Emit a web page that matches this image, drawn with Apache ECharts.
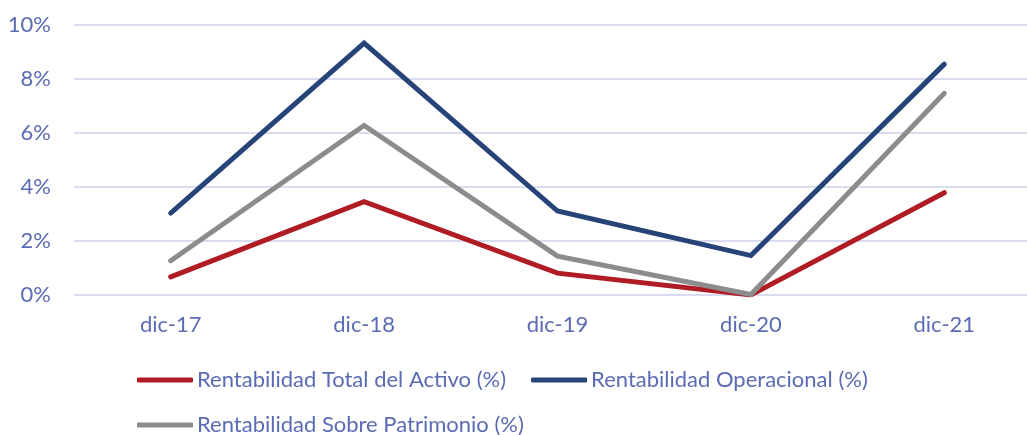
<!DOCTYPE html>
<html>
<head>
<meta charset="utf-8">
<script src="https://cdn.jsdelivr.net/npm/echarts@6/dist/echarts.min.js"></script>
<style>
html,body{margin:0;padding:0;background:#fff;overflow:hidden;width:1027px;height:435px;}
#chart{width:1050px;height:435px;}
</style>
</head>
<body>
<div id="chart"></div>
<script>
const categories = ['dic-17', 'dic-18', 'dic-19', 'dic-20', 'dic-21'];
const totalActivo = [0.67, 3.46, 0.81, 0.0, 3.79];
const operacional = [3.03, 9.33, 3.11, 1.46, 8.55];
const patrimonio = [1.27, 6.28, 1.44, 0.02, 7.47];
const seriesNames = ['Rentabilidad Total del Activo (%)', 'Rentabilidad Operacional (%)', 'Rentabilidad Sobre Patrimonio (%)'];
const colors = ['#B01C24', '#264478', '#8C8C8C'];

const textColor = '#5B6BB4';
const fontFamily = 'Lato, "Open Sans", sans-serif';

const chart = echarts.init(document.getElementById('chart'), null, {renderer: 'canvas'});
const mk = (name, data, color) => ({
  name, type: 'line', data, symbol: 'none', smooth: false,
  lineStyle: {color, width: 5, cap: 'round', join: 'miter'},
  itemStyle: {color},
  animation: false
});
const legendBase = {
  padding: 0, itemWidth: 56, itemHeight: 5, itemGap: 25, icon: 'roundRect',
  textStyle: {color: textColor, fontSize: 22, fontFamily, padding: [0, 0, 0, -1]}
};
chart.setOption({
  animation: false,
  grid: {left: 74, top: 25, width: 967, height: 270, containLabel: false},
  xAxis: {
    type: 'category', data: categories, boundaryGap: true,
    axisLine: {show: false}, axisTick: {show: false},
    axisLabel: {color: textColor, fontSize: 22, fontFamily, margin: 19}
  },
  yAxis: {
    type: 'value', min: 0, max: 10, interval: 2,
    axisLine: {show: false}, axisTick: {show: false},
    axisLabel: {color: textColor, fontSize: 22, fontFamily, margin: 23, formatter: v => v + '%'},
    splitLine: {lineStyle: {color: '#D9DCEE', width: 2}}
  },
  legend: [
    Object.assign({}, legendBase, {data: [seriesNames[0], seriesNames[1]], left: 137, top: 369}),
    Object.assign({}, legendBase, {data: [seriesNames[2]], left: 137, top: 414})
  ],
  series: [
    mk(seriesNames[0], totalActivo, colors[0]),
    mk(seriesNames[1], operacional, colors[1]),
    mk(seriesNames[2], patrimonio, colors[2])
  ]
});
</script>
</body>
</html>
